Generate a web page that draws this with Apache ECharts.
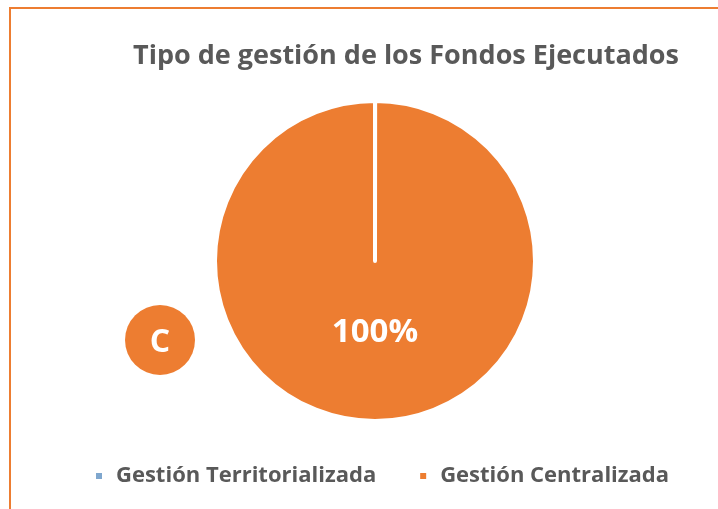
<!DOCTYPE html>
<html>
<head>
<meta charset="utf-8">
<script src="https://cdn.jsdelivr.net/npm/echarts@6/dist/echarts.min.js"></script>
<style>
  html, body { margin: 0; padding: 0; background: #fff; }
  #chart { width: 718px; height: 509px; position: relative; }
  /* marco naranja (arriba e izquierda) */
  #frame { position: absolute; left: 9px; top: 7px; right: -5px; bottom: -5px;
           border-top: 2px solid #ED7D31; border-left: 2px solid #ED7D31; pointer-events: none; }
</style>
</head>
<body>
<div id="chart"></div>
<div id="frame"></div>
<script>
// datos del gráfico
const categories = ['Gestión Territorializada', 'Gestión Centralizada'];
const values = [0, 100];
const colors = ['#7FA7CE', '#ED7D31'];
const chartTitle = 'Tipo de gestión de los Fondos Ejecutados';

const chart = echarts.init(document.getElementById('chart'));

const seriesData = categories.map((name, i) => ({
  name: name,
  value: values[i],
  itemStyle: { color: colors[i] },
  label: { show: values[i] > 0 },
}));

chart.setOption({
  animation: false,
  title: {
    text: chartTitle,
    left: 401,
    top: 38,
    textAlign: 'center',
    textStyle: {
      fontFamily: 'Open Sans',
      fontWeight: 'bold',
      fontSize: 27,
      color: '#595959',
    },
  },
  legend: {
    data: categories,
    left: 89,
    top: 460,
    icon: 'rect',
    itemWidth: 8,
    itemHeight: 8,
    itemGap: 42,
    textStyle: {
      fontFamily: 'Open Sans',
      fontWeight: 'bold',
      fontSize: 22,
      color: '#595959',
      padding: [0, 0, 0, 8],
    },
  },
  graphic: [
    {
      type: 'circle',
      shape: { cx: 160, cy: 340, r: 35 },
      style: { fill: '#ED7D31' },
    },
    {
      type: 'text',
      x: 160,
      y: 343,
      style: {
        text: 'C',
        fill: '#fff',
        font: 'bold 32px "Open Sans"',
        textAlign: 'center',
        textVerticalAlign: 'middle',
      },
    },
  ],
  series: [
    {
      type: 'pie',
      center: [375, 261],
      radius: 160,
      startAngle: 90,
      minAngle: 0.05,
      avoidLabelOverlap: false,
      itemStyle: { borderColor: '#fff', borderWidth: 4 },
      label: {
        position: 'inside',
        formatter: '{d}%',
        offset: [0, -11],
        fontFamily: 'Open Sans',
        fontWeight: 'bold',
        fontSize: 33,
        color: '#fff',
      },
      labelLine: { show: false },
      emphasis: { disabled: true },
      data: seriesData,
    },
  ],
});
</script>
</body>
</html>
